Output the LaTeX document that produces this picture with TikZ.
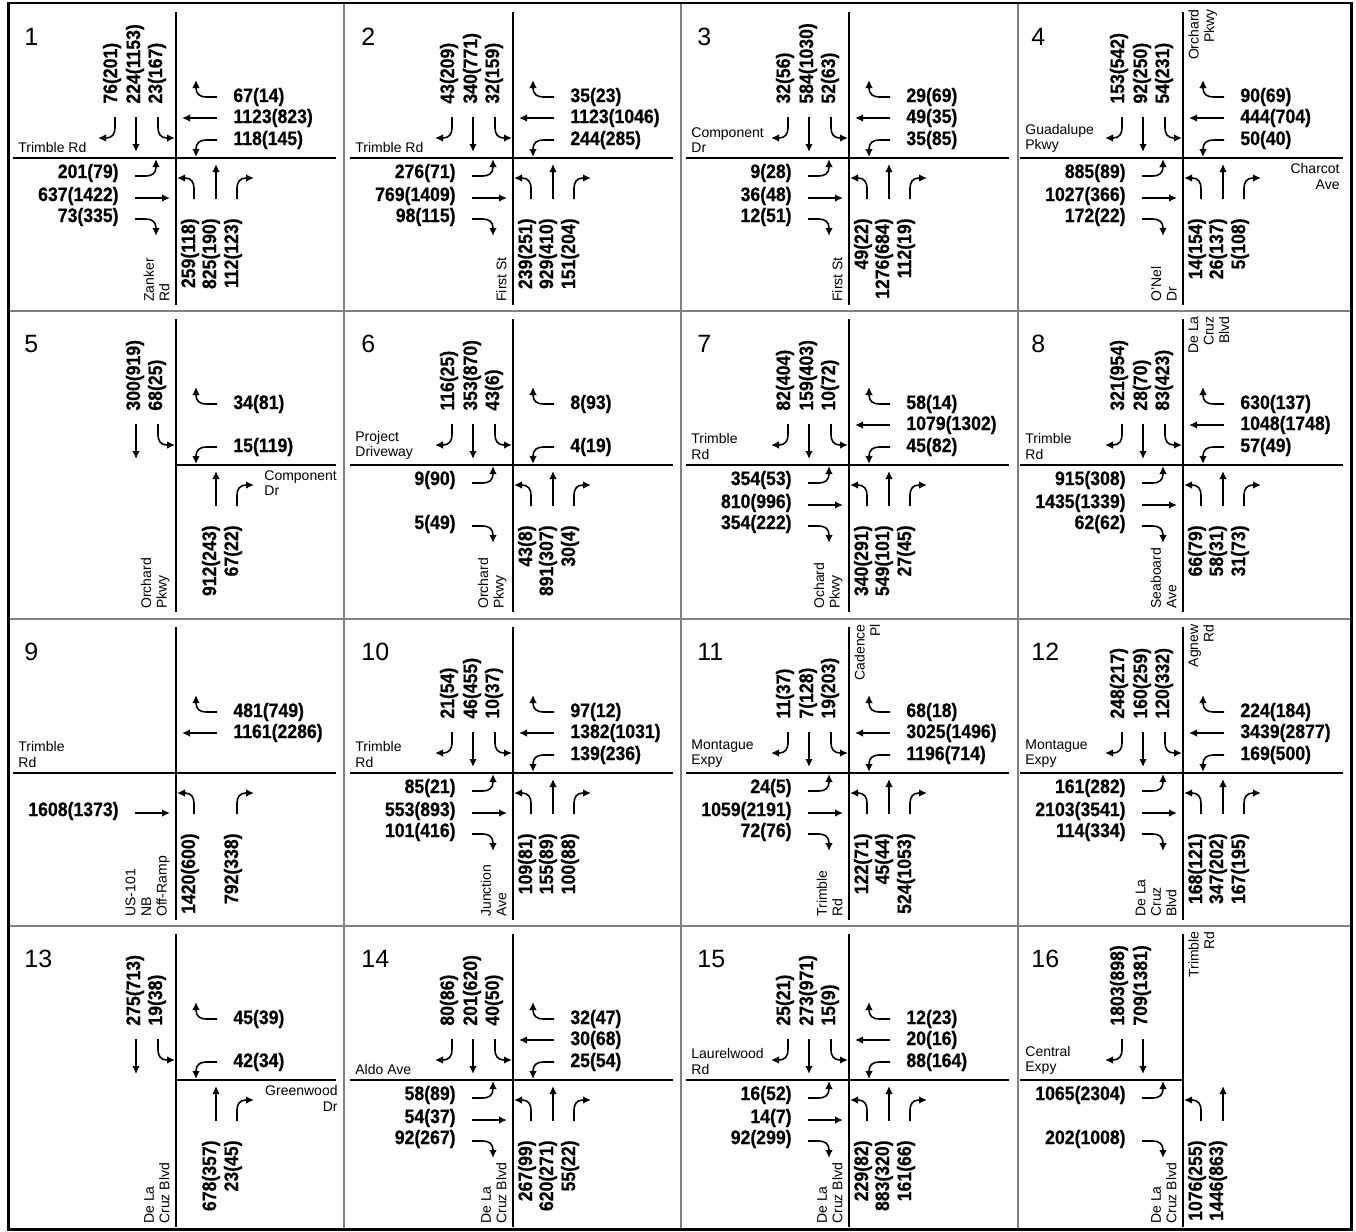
\documentclass[tikz,border=0pt]{standalone}
\usepackage{fontspec}
\setmainfont{Liberation Sans}
\newfontfamily\volfont[FakeStretch=0.9,BoldFeatures={FakeBold=0.6}]{Liberation Sans}
\usetikzlibrary{arrows.meta}

\tikzset{
  mv/.style={line width=0.8pt,-{Latex[length=4pt,width=3.8pt]}},
  road/.style={line width=0.9pt},
  vol/.style={inner sep=0pt,font=\volfont\bfseries\fontsize{9.8}{10}\selectfont},
  vlab/.style={rotate=90},
  stname/.style={inner sep=0pt,font=\fontsize{7}{7.8}\selectfont},
  wname/.style={stname,align=left,anchor=south west},
  sname/.style={stname,vlab,align=left,anchor=south west},
  nname/.style={stname,vlab,align=right,anchor=north east},
  num/.style={inner sep=0pt,anchor=base west,font=\fontsize{12.5}{14}\selectfont},
  frame/.style={line width=1.3pt},
  divider/.style={line width=1.3pt,draw=gray}
}

% movements drawn for the southbound leg, the other legs are rotated copies
\newcommand{\mvR}{\draw[mv] (-61,-41) -- (-61,-30) .. controls (-61,-24) and (-64,-20) .. (-70,-20) -- (-78,-20);}
\newcommand{\mvT}{\draw[mv] (-40,-41) -- (-40,-6);}
\newcommand{\mvL}{\draw[mv] (-18,-41) -- (-18,-30) .. controls (-18,-24) and (-15,-20) .. (-9,-20) -- (-1,-20);}

% #1 right, #2 through, #3 left
\newcommand{\sbound}[3]{%
  \ifx\relax#1\relax\else\mvR\node[vol,vlab,anchor=west] (\pn-sbr) at (-64,-54) {#1};\fi
  \ifx\relax#2\relax\else\mvT\node[vol,vlab,anchor=west] (\pn-sbt) at (-41,-54) {#2};\fi
  \ifx\relax#3\relax\else\mvL\node[vol,vlab,anchor=west] (\pn-sbl) at (-19,-54) {#3};\fi}
% #1 right, #2 through, #3 left
\newcommand{\wbound}[3]{%
  \ifx\relax#1\relax\else\begin{scope}[rotate=-90]\mvR\end{scope}\node[vol,anchor=west] (\pn-wbr) at (57,-61) {#1};\fi
  \ifx\relax#2\relax\else\begin{scope}[rotate=-90]\mvT\end{scope}\node[vol,anchor=west] (\pn-wbt) at (57,-40) {#2};\fi
  \ifx\relax#3\relax\else\begin{scope}[rotate=-90]\mvL\end{scope}\node[vol,anchor=west] (\pn-wbl) at (57,-18) {#3};\fi}
% #1 left, #2 through, #3 right
\newcommand{\ebound}[3]{%
  \ifx\relax#1\relax\else\begin{scope}[rotate=90]\mvL\end{scope}\node[vol,anchor=east] (\pn-ebl) at (-57,15) {#1};\fi
  \ifx\relax#2\relax\else\begin{scope}[rotate=90]\mvT\end{scope}\node[vol,anchor=east] (\pn-ebt) at (-57,38) {#2};\fi
  \ifx\relax#3\relax\else\begin{scope}[rotate=90]\mvR\end{scope}\node[vol,anchor=east] (\pn-ebr) at (-57,59) {#3};\fi}
% #1 left, #2 through, #3 right
\newcommand{\nbound}[3]{%
  \ifx\relax#1\relax\else\begin{scope}[rotate=180]\mvL\end{scope}\node[vol,vlab,anchor=east] (\pn-nbl) at (14,60) {#1};\fi
  \ifx\relax#2\relax\else\begin{scope}[rotate=180]\mvT\end{scope}\node[vol,vlab,anchor=east] (\pn-nbt) at (35,60) {#2};\fi
  \ifx\relax#3\relax\else\begin{scope}[rotate=180]\mvR\end{scope}\node[vol,vlab,anchor=east] (\pn-nbr) at (57,60) {#3};\fi}

\begin{document}
\begin{tikzpicture}[x=0.5pt,y=-0.5pt]
  \useasboundingbox (0,0) rectangle (1356,1232);

  \draw[divider] (344,3) -- (344,1229.5) (681,3) -- (681,1229.5) (1018,3) -- (1018,1229.5);
  \draw[divider] (8.5,311) -- (1351.5,311) (8.5,619) -- (1351.5,619) (8.5,926) -- (1351.5,926);
  \draw[frame] (8.5,3) rectangle (1351.5,1229.5);

  % row 1
  \begin{scope}[shift={(176,158)}]
    \def\pn{p1}
    \node[num] (p1) at (-152,-113) {1};
    \draw[road] (-163,0) -- (160,0) (0,-146) -- (0,147);
    \node[wname] (p1-w) at (-158,-5) {Trimble Rd};
    \node[sname] (p1-s) at (-6,144) {Zanker\\Rd};
    \sbound{76(201)}{224(1153)}{23(167)}
    \wbound{67(14)}{1123(823)}{118(145)}
    \ebound{201(79)}{637(1422)}{73(335)}
    \nbound{259(118)}{825(190)}{112(123)}
  \end{scope}

  \begin{scope}[shift={(513,158)}]
    \def\pn{p2}
    \node[num] (p2) at (-152,-113) {2};
    \draw[road] (-163,0) -- (160,0) (0,-146) -- (0,147);
    \node[wname] (p2-w) at (-158,-5) {Trimble Rd};
    \node[sname] (p2-s) at (-6,144) {First St};
    \sbound{43(209)}{340(771)}{32(159)}
    \wbound{35(23)}{1123(1046)}{244(285)}
    \ebound{276(71)}{769(1409)}{98(115)}
    \nbound{239(251)}{929(410)}{151(204)}
  \end{scope}

  \begin{scope}[shift={(849,158)}]
    \def\pn{p3}
    \node[num] (p3) at (-152,-113) {3};
    \draw[road] (-163,0) -- (160,0) (0,-146) -- (0,147);
    \node[wname] (p3-w) at (-158,-5) {Component\\Dr};
    \node[sname] (p3-s) at (-6,144) {First St};
    \sbound{32(56)}{584(1030)}{52(63)}
    \wbound{29(69)}{49(35)}{35(85)}
    \ebound{9(28)}{36(48)}{12(51)}
    \nbound{49(22)}{1276(684)}{112(19)}
  \end{scope}

  \begin{scope}[shift={(1183,158)}]
    \def\pn{p4}
    \node[num] (p4) at (-152,-113) {4};
    \draw[road] (-163,0) -- (160,0) (0,-146) -- (0,147);
    \node[wname] (p4-w) at (-158,-5) {Guadalupe\\Pkwy};
    \node[nname] (p4-n) at (5,-149) {Orchard\\Pkwy};
    \node[stname,align=right,anchor=north east] (p4-e) at (157,5) {Charcot\\Ave};
    \node[sname] (p4-s) at (-6,144) {O'Nel\\Dr};
    \sbound{153(542)}{92(250)}{54(231)}
    \wbound{90(69)}{444(704)}{50(40)}
    \ebound{885(89)}{1027(366)}{172(22)}
    \nbound{14(154)}{26(137)}{5(108)}
  \end{scope}

  % row 2
  \begin{scope}[shift={(176,465)}]
    \def\pn{p5}
    \node[num] (p5) at (-152,-113) {5};
    \draw[road] (0,0) -- (160,0) (0,-146) -- (0,147);
    \node[stname,align=left,anchor=north west] (p5-e) at (88,5) {Component\\Dr};
    \node[sname] (p5-s) at (-6,144) {Orchard\\Pkwy};
    \sbound{}{300(919)}{68(25)}
    \wbound{34(81)}{}{15(119)}
    \nbound{}{912(243)}{67(22)}
  \end{scope}

  \begin{scope}[shift={(513,465)}]
    \def\pn{p6}
    \node[num] (p6) at (-152,-113) {6};
    \draw[road] (-163,0) -- (160,0) (0,-146) -- (0,147);
    \node[wname] (p6-w) at (-158,-5) {Project\\Driveway};
    \node[sname] (p6-s) at (-6,144) {Orchard\\Pkwy};
    \sbound{116(25)}{353(870)}{43(6)}
    \wbound{8(93)}{}{4(19)}
    \ebound{9(90)}{}{5(49)}
    \nbound{43(8)}{891(307)}{30(4)}
  \end{scope}

  \begin{scope}[shift={(849,465)}]
    \def\pn{p7}
    \node[num] (p7) at (-152,-113) {7};
    \draw[road] (-163,0) -- (160,0) (0,-146) -- (0,147);
    \node[wname] (p7-w) at (-158,-5) {Trimble\\Rd};
    \node[sname] (p7-s) at (-6,144) {Ochard\\Pkwy};
    \sbound{82(404)}{159(403)}{10(72)}
    \wbound{58(14)}{1079(1302)}{45(82)}
    \ebound{354(53)}{810(996)}{354(222)}
    \nbound{340(291)}{549(101)}{27(45)}
  \end{scope}

  \begin{scope}[shift={(1183,465)}]
    \def\pn{p8}
    \node[num] (p8) at (-152,-113) {8};
    \draw[road] (-163,0) -- (160,0) (0,-146) -- (0,147);
    \node[wname] (p8-w) at (-158,-5) {Trimble\\Rd};
    \node[nname] (p8-n) at (5,-149) {De La\\Cruz\\Blvd};
    \node[sname] (p8-s) at (-6,144) {Seaboard\\Ave};
    \sbound{321(954)}{28(70)}{83(423)}
    \wbound{630(137)}{1048(1748)}{57(49)}
    \ebound{915(308)}{1435(1339)}{62(62)}
    \nbound{66(79)}{58(31)}{31(73)}
  \end{scope}

  % row 3
  \begin{scope}[shift={(176,773)}]
    \def\pn{p9}
    \node[num] (p9) at (-152,-113) {9};
    \draw[road] (-163,0) -- (160,0) (0,-146) -- (0,147);
    \node[wname] (p9-w) at (-158,-5) {Trimble\\Rd};
    \node[sname] (p9-s) at (-6,144) {US-101\\NB\\Off-Ramp};
    \wbound{481(749)}{1161(2286)}{}
    \ebound{}{1608(1373)}{}
    \nbound{1420(600)}{}{792(338)}
  \end{scope}

  \begin{scope}[shift={(513,773)}]
    \def\pn{p10}
    \node[num] (p10) at (-152,-113) {10};
    \draw[road] (-163,0) -- (160,0) (0,-146) -- (0,147);
    \node[wname] (p10-w) at (-158,-5) {Trimble\\Rd};
    \node[sname] (p10-s) at (-6,144) {Junction\\Ave};
    \sbound{21(54)}{46(455)}{10(37)}
    \wbound{97(12)}{1382(1031)}{139(236)}
    \ebound{85(21)}{553(893)}{101(416)}
    \nbound{109(81)}{155(89)}{100(88)}
  \end{scope}

  \begin{scope}[shift={(849,773)}]
    \def\pn{p11}
    \node[num] (p11) at (-152,-113) {11};
    \draw[road] (-163,0) -- (160,0) (0,-146) -- (0,147);
    \node[wname] (p11-w) at (-158,-5) {Montague\\Expy};
    \node[nname] (p11-n) at (5,-149) {Cadence\\Pl};
    \node[sname] (p11-s) at (-6,144) {Trimble\\Rd};
    \sbound{11(37)}{7(128)}{19(203)}
    \wbound{68(18)}{3025(1496)}{1196(714)}
    \ebound{24(5)}{1059(2191)}{72(76)}
    \nbound{122(71)}{45(44)}{524(1053)}
  \end{scope}

  \begin{scope}[shift={(1183,773)}]
    \def\pn{p12}
    \node[num] (p12) at (-152,-113) {12};
    \draw[road] (-163,0) -- (160,0) (0,-146) -- (0,147);
    \node[wname] (p12-w) at (-158,-5) {Montague\\Expy};
    \node[nname] (p12-n) at (5,-149) {Agnew\\Rd};
    \node[sname] (p12-s) at (-6,144) {De La\\Cruz\\Blvd};
    \sbound{248(217)}{160(259)}{120(332)}
    \wbound{224(184)}{3439(2877)}{169(500)}
    \ebound{161(282)}{2103(3541)}{114(334)}
    \nbound{168(121)}{347(202)}{167(195)}
  \end{scope}

  % row 4
  \begin{scope}[shift={(176,1080)}]
    \def\pn{p13}
    \node[num] (p13) at (-152,-113) {13};
    \draw[road] (0,0) -- (160,0) (0,-146) -- (0,147);
    \node[stname,align=right,anchor=north east] (p13-e) at (162,5) {Greenwood\\Dr};
    \node[sname] (p13-s) at (-6,144) {De La\\Cruz Blvd};
    \sbound{}{275(713)}{19(38)}
    \wbound{45(39)}{}{42(34)}
    \nbound{}{678(357)}{23(45)}
  \end{scope}

  \begin{scope}[shift={(513,1080)}]
    \def\pn{p14}
    \node[num] (p14) at (-152,-113) {14};
    \draw[road] (-163,0) -- (160,0) (0,-146) -- (0,147);
    \node[wname] (p14-w) at (-158,-5) {Aldo Ave};
    \node[sname] (p14-s) at (-6,144) {De La\\Cruz Blvd};
    \sbound{80(86)}{201(620)}{40(50)}
    \wbound{32(47)}{30(68)}{25(54)}
    \ebound{58(89)}{54(37)}{92(267)}
    \nbound{267(99)}{620(271)}{55(22)}
  \end{scope}

  \begin{scope}[shift={(849,1080)}]
    \def\pn{p15}
    \node[num] (p15) at (-152,-113) {15};
    \draw[road] (-163,0) -- (160,0) (0,-146) -- (0,147);
    \node[wname] (p15-w) at (-158,-5) {Laurelwood\\Rd};
    \node[sname] (p15-s) at (-6,144) {De La\\Cruz Blvd};
    \sbound{25(21)}{273(971)}{15(9)}
    \wbound{12(23)}{20(16)}{88(164)}
    \ebound{16(52)}{14(7)}{92(299)}
    \nbound{229(82)}{883(320)}{161(66)}
  \end{scope}

  \begin{scope}[shift={(1183,1080)}]
    \def\pn{p16}
    \node[num] (p16) at (-152,-113) {16};
    \draw[road] (-163,0) -- (0,0) (0,-146) -- (0,147);
    \node[wname] (p16-w) at (-158,-5) {Central\\Expy};
    \node[nname] (p16-n) at (5,-149) {Trimble\\Rd};
    \node[sname] (p16-s) at (-6,144) {De La\\Cruz Blvd};
    \sbound{1803(898)}{709(1381)}{}
    \ebound{1065(2304)}{}{202(1008)}
    \nbound{1076(255)}{1446(863)}{}
  \end{scope}
\end{tikzpicture}
\end{document}
